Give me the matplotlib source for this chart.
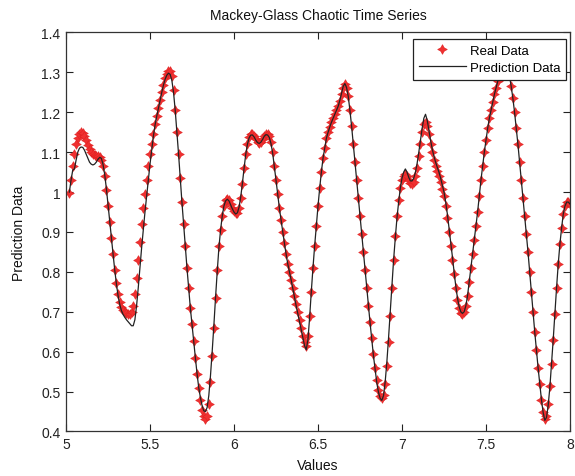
import numpy as np
import matplotlib
matplotlib.use("Agg")
import matplotlib.pyplot as plt

plt.rcParams['font.family'] = ['Liberation Sans', 'DejaVu Sans']

# sample grid
x_start = 5.02
x_step = 0.01

real_data = [
    0.997, 1.03, 1.065, 1.095, 1.12, 1.135, 1.145, 1.15,
    1.148, 1.14, 1.13, 1.118, 1.108, 1.10, 1.095, 1.092, 1.09, 1.09,
    1.088, 1.08, 1.065, 1.04, 1.005, 0.965, 0.925, 0.885, 0.845, 0.805,
    0.772, 0.745, 0.725, 0.712, 0.705, 0.70, 0.697, 0.695, 0.695, 0.70,
    0.715, 0.745, 0.785, 0.83, 0.875, 0.92, 0.96, 0.995, 1.03, 1.065,
    1.095, 1.12, 1.145, 1.17, 1.19, 1.21, 1.23, 1.25, 1.268, 1.285,
    1.297, 1.303, 1.303, 1.29, 1.255, 1.205, 1.15, 1.095, 1.035, 0.975,
    0.92, 0.865, 0.81, 0.76, 0.71, 0.67, 0.627, 0.585, 0.545, 0.51,
    0.48, 0.455, 0.44, 0.432, 0.438, 0.47, 0.525, 0.59, 0.66, 0.735,
    0.805, 0.865, 0.905, 0.94, 0.965, 0.98, 0.983, 0.98, 0.97, 0.96,
    0.952, 0.947, 0.948, 0.96, 0.985, 1.02, 1.06, 1.095, 1.12, 1.138,
    1.145, 1.145, 1.14, 1.132, 1.125, 1.122, 1.125, 1.132, 1.14, 1.145,
    1.145, 1.14, 1.125, 1.10, 1.065, 1.03, 0.995, 0.96, 0.93, 0.90,
    0.872, 0.845, 0.82, 0.80, 0.78, 0.76, 0.74, 0.72, 0.70, 0.68,
    0.66, 0.64, 0.625, 0.615, 0.64, 0.69, 0.75, 0.81, 0.865, 0.915,
    0.965, 1.01, 1.05, 1.085, 1.11, 1.135, 1.15, 1.163, 1.175, 1.185,
    1.195, 1.205, 1.215, 1.228, 1.245, 1.262, 1.27, 1.262, 1.24, 1.205,
    1.165, 1.12, 1.075, 1.03, 0.985, 0.94, 0.895, 0.85, 0.805, 0.76,
    0.715, 0.675, 0.635, 0.595, 0.56, 0.53, 0.505, 0.488, 0.483, 0.492,
    0.52, 0.565, 0.625, 0.69, 0.76, 0.83, 0.89, 0.94, 0.98, 1.01,
    1.03, 1.04, 1.045, 1.04, 1.03, 1.022, 1.02, 1.025, 1.04, 1.06,
    1.09, 1.12, 1.15, 1.17, 1.175, 1.165, 1.145, 1.12, 1.10, 1.08,
    1.065, 1.052, 1.04, 1.025, 1.008, 0.99, 0.965, 0.935, 0.90, 0.865,
    0.83, 0.795, 0.76, 0.73, 0.71, 0.698, 0.695, 0.70, 0.715, 0.74,
    0.775, 0.81, 0.845, 0.88, 0.915, 0.95, 0.99, 1.03, 1.065, 1.10,
    1.13, 1.16, 1.185, 1.205, 1.225, 1.245, 1.262, 1.278, 1.29, 1.30,
    1.308, 1.312, 1.312, 1.305, 1.29, 1.265, 1.235, 1.20, 1.16, 1.12,
    1.075, 1.03, 0.985, 0.94, 0.895, 0.85, 0.80, 0.75, 0.70, 0.65,
    0.605, 0.56, 0.52, 0.48, 0.45, 0.432, 0.44, 0.47, 0.515, 0.57,
    0.63, 0.695, 0.76, 0.82, 0.87, 0.91, 0.945, 0.965, 0.975, 0.975,
    0.97,
]

prediction_data = [
    1.0, 1.03, 1.055, 1.058, 1.08, 1.10, 1.11, 1.113,
    1.112, 1.105, 1.095, 1.085, 1.075, 1.07, 1.068, 1.07, 1.075, 1.082,
    1.087, 1.085, 1.07, 1.045, 1.01, 0.97, 0.928, 0.886, 0.845, 0.805,
    0.77, 0.74, 0.718, 0.703, 0.693, 0.686, 0.68, 0.675, 0.67, 0.665,
    0.665, 0.68, 0.715, 0.76, 0.81, 0.86, 0.905, 0.95, 0.99, 1.03,
    1.07, 1.105, 1.14, 1.168, 1.19, 1.21, 1.23, 1.25, 1.268, 1.283,
    1.293, 1.298, 1.295, 1.28, 1.25, 1.205, 1.15, 1.095, 1.035, 0.975,
    0.92, 0.865, 0.81, 0.76, 0.71, 0.668, 0.627, 0.585, 0.545, 0.51,
    0.485, 0.465, 0.452, 0.45, 0.46, 0.49, 0.54, 0.60, 0.665, 0.735,
    0.80, 0.86, 0.905, 0.94, 0.965, 0.978, 0.982, 0.978, 0.968, 0.958,
    0.95, 0.945, 0.948, 0.962, 0.988, 1.022, 1.06, 1.095, 1.12, 1.136,
    1.143, 1.143, 1.138, 1.13, 1.124, 1.122, 1.125, 1.132, 1.14, 1.144,
    1.143, 1.137, 1.122, 1.098, 1.065, 1.03, 0.995, 0.96, 0.93, 0.90,
    0.872, 0.845, 0.82, 0.80, 0.78, 0.758, 0.737, 0.715, 0.695, 0.675,
    0.655, 0.635, 0.615, 0.605, 0.63, 0.685, 0.75, 0.81, 0.865, 0.915,
    0.965, 1.01, 1.05, 1.085, 1.11, 1.135, 1.15, 1.163, 1.175, 1.185,
    1.195, 1.205, 1.215, 1.23, 1.248, 1.265, 1.272, 1.262, 1.24, 1.205,
    1.165, 1.12, 1.075, 1.03, 0.985, 0.94, 0.895, 0.85, 0.805, 0.76,
    0.715, 0.672, 0.63, 0.59, 0.555, 0.522, 0.498, 0.483, 0.478, 0.49,
    0.525, 0.575, 0.635, 0.70, 0.765, 0.83, 0.885, 0.935, 0.975, 1.01,
    1.035, 1.05, 1.058, 1.05, 1.037, 1.028, 1.028, 1.035, 1.05, 1.072,
    1.10, 1.13, 1.16, 1.185, 1.195, 1.18, 1.155, 1.13, 1.108, 1.09,
    1.075, 1.062, 1.05, 1.035, 1.018, 1.0, 0.975, 0.945, 0.91, 0.875,
    0.838, 0.80, 0.765, 0.735, 0.713, 0.70, 0.696, 0.70, 0.715, 0.74,
    0.775, 0.81, 0.845, 0.88, 0.915, 0.95, 0.99, 1.03, 1.065, 1.10,
    1.13, 1.16, 1.185, 1.205, 1.225, 1.245, 1.262, 1.278, 1.29, 1.30,
    1.308, 1.312, 1.312, 1.305, 1.29, 1.265, 1.235, 1.20, 1.16, 1.12,
    1.075, 1.03, 0.985, 0.94, 0.895, 0.85, 0.80, 0.75, 0.70, 0.65,
    0.605, 0.56, 0.52, 0.48, 0.448, 0.428, 0.435, 0.465, 0.51, 0.57,
    0.63, 0.695, 0.76, 0.82, 0.87, 0.91, 0.945, 0.965, 0.975, 0.975,
    0.97,
]

x_ticks = [5, 5.5, 6, 6.5, 7, 7.5, 8]
x_tick_labels = ["5", "5.5", "6", "6.5", "7", "7.5", "8"]
y_ticks = [0.4, 0.5, 0.6, 0.7, 0.8, 0.9, 1.0, 1.1, 1.2, 1.3, 1.4]
y_tick_labels = ["0.4", "0.5", "0.6", "0.7", "0.8", "0.9", "1", "1.1", "1.2", "1.3", "1.4"]

x = x_start + x_step * np.arange(len(real_data))

fig = plt.figure(figsize=(5.75, 4.77), dpi=100, facecolor="white")
ax = fig.add_axes([0.1148, 0.0933, 0.8765, 0.8365])

ax.plot(x, real_data, linestyle="none", marker=(4, 1, 0), markersize=7,
        markerfacecolor="#f03030", markeredgecolor="#e02020", markeredgewidth=0.4,
        label="Real Data", zorder=2)
ax.plot(x[:len(prediction_data)], prediction_data, color="#222222", linewidth=0.9,
        label="Prediction Data", zorder=3)

ax.set_xlim(5, 8)
ax.set_ylim(0.4, 1.4)
ax.set_xticks(x_ticks)
ax.set_xticklabels(x_tick_labels)
ax.set_yticks(y_ticks)
ax.set_yticklabels(y_tick_labels)
ax.tick_params(direction="in", length=5, width=0.8, top=True, right=True,
               labelsize=10, colors="#222222", pad=4)
for s in ax.spines.values():
    s.set_color("#333333")
    s.set_linewidth(0.9)

ax.set_title("Mackey-Glass Chaotic Time Series", fontsize=10, pad=10, color="#111111")
ax.set_xlabel("Values", fontsize=10, labelpad=5, color="#111111")
ax.set_ylabel("Prediction Data", fontsize=10, labelpad=11, color="#111111")

leg = ax.legend(loc="upper right", bbox_to_anchor=(0.992, 0.984), borderaxespad=0,
                fontsize=9.5, frameon=True, fancybox=False, handlelength=3.6,
                handletextpad=0.25, borderpad=0.45, labelspacing=0.35)
leg.get_frame().set_edgecolor("#222222")
leg.get_frame().set_linewidth(0.9)
leg.get_frame().set_alpha(1.0)
leg.set_zorder(5)

fig.savefig("out.png", dpi=100, facecolor="white")
